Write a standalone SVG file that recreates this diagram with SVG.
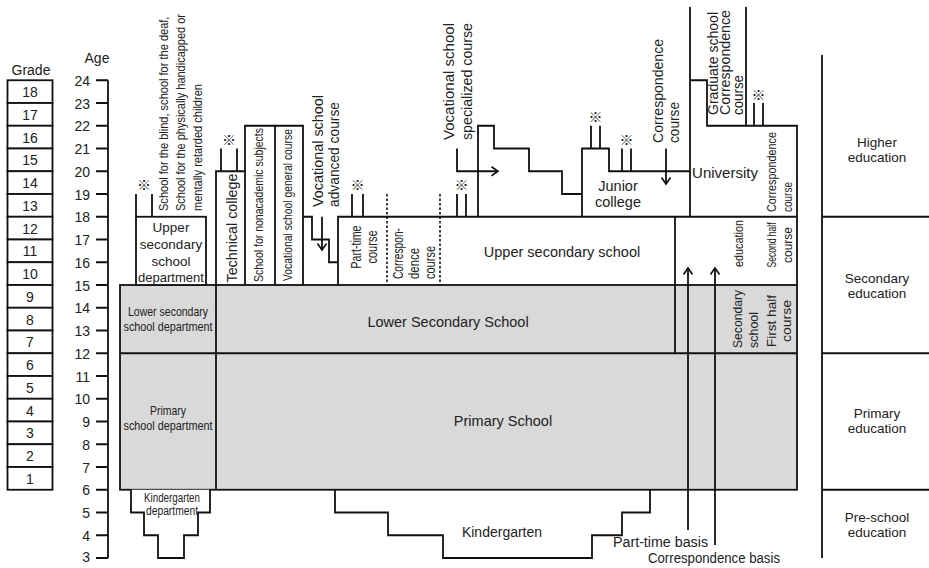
<svg xmlns="http://www.w3.org/2000/svg" width="929" height="568" viewBox="0 0 929 568">
<style>
.ln{fill:none;stroke:#111;stroke-width:1.8}
.dot{fill:none;stroke:#111;stroke-width:1.6;stroke-dasharray:2.5,2}
.box{fill:#fff;stroke:#111;stroke-width:1.8}
.grey{fill:#d9d9d9;stroke:#111;stroke-width:1.8}
text{font-family:"Liberation Sans",Arial,sans-serif;fill:#222}
.c{text-anchor:middle}
.e{text-anchor:end}
.v{dominant-baseline:central}
.m{dominant-baseline:central;text-anchor:middle}
.k{font-family:"Noto Sans CJK JP","Noto Sans CJK SC",sans-serif;font-size:14px;font-weight:bold;text-anchor:middle;dominant-baseline:central;fill:#111}
</style>
<defs>
<marker id="ah" viewBox="-8 -6 10 12" refX="0" refY="0" markerWidth="10" markerHeight="12" markerUnits="userSpaceOnUse" orient="auto">
<path d="M-6.5,-4.5 L0,0 L-6.5,4.5" fill="none" stroke="#111" stroke-width="1.6"/>
</marker>
</defs>

<g id="grade-column" font-size="14">
<text x="31" y="75" class="c">Grade</text>
<g class="box">
<rect x="7.5" y="80.25" width="45" height="22.75"/><rect x="7.5" y="103" width="45" height="22.75"/>
<rect x="7.5" y="125.75" width="45" height="22.75"/><rect x="7.5" y="148.5" width="45" height="22.75"/>
<rect x="7.5" y="171.25" width="45" height="22.75"/><rect x="7.5" y="194" width="45" height="22.75"/>
<rect x="7.5" y="216.75" width="45" height="22.75"/><rect x="7.5" y="239.5" width="45" height="22.75"/>
<rect x="7.5" y="262.25" width="45" height="22.75"/><rect x="7.5" y="285" width="45" height="22.75"/>
<rect x="7.5" y="307.75" width="45" height="22.75"/><rect x="7.5" y="330.5" width="45" height="22.75"/>
<rect x="7.5" y="353.25" width="45" height="22.75"/><rect x="7.5" y="376" width="45" height="22.75"/>
<rect x="7.5" y="398.75" width="45" height="22.75"/><rect x="7.5" y="421.5" width="45" height="22.75"/>
<rect x="7.5" y="444.25" width="45" height="22.75"/><rect x="7.5" y="467" width="45" height="22.75"/>
</g>
<g class="m">
<text x="30" y="92">18</text><text x="30" y="114.8">17</text><text x="30" y="137.5">16</text>
<text x="30" y="160.3">15</text><text x="30" y="183">14</text><text x="30" y="205.8">13</text>
<text x="30" y="228.5">12</text><text x="30" y="251.3">11</text><text x="30" y="274">10</text>
<text x="30" y="296.8">9</text><text x="30" y="319.5">8</text><text x="30" y="342.3">7</text>
<text x="30" y="365">6</text><text x="30" y="387.8">5</text><text x="30" y="410.5">4</text>
<text x="30" y="433.3">3</text><text x="30" y="456">2</text><text x="30" y="478.8">1</text>
</g>
</g>

<g id="age-axis" font-size="14">
<text x="97" y="63" class="c">Age</text>
<path class="ln" d="M108,80.25 V558 M96,80.25 H108 M96,103 H108 M96,125.75 H108 M96,148.5 H108 M96,171.25 H108 M96,194 H108 M96,216.75 H108 M96,239.5 H108 M96,262.25 H108 M96,285 H108 M96,307.75 H108 M96,330.5 H108 M96,353.25 H108 M96,376 H108 M96,398.75 H108 M96,421.5 H108 M96,444.25 H108 M96,467 H108 M96,489.75 H108 M96,512.5 H108 M96,535.25 H108 M96,558 H108"/>
<g class="e v">
<text x="90" y="81">24</text><text x="90" y="103.5">23</text><text x="90" y="126.3">22</text>
<text x="90" y="149">21</text><text x="90" y="171.8">20</text><text x="90" y="194.5">19</text>
<text x="90" y="217.3">18</text><text x="90" y="240">17</text><text x="90" y="262.8">16</text>
<text x="90" y="285.5">15</text><text x="90" y="308.3">14</text><text x="90" y="331">13</text>
<text x="90" y="353.8">12</text><text x="90" y="376.5">11</text><text x="90" y="399.3">10</text>
<text x="90" y="422">9</text><text x="90" y="444.8">8</text><text x="90" y="467.5">7</text>
<text x="90" y="490.3">6</text><text x="90" y="513">5</text><text x="90" y="535.8">4</text>
<text x="90" y="557">3</text>
</g>
</g>

<g id="primary-lower-secondary">
<rect class="grey" x="120" y="285" width="677" height="204.75"/>
<path class="ln" d="M120,353.25 H797 M216,285 V489.75"/>
<text x="448" y="327" class="c" font-size="14.5">Lower Secondary School</text>
<text x="503" y="426" class="c" font-size="14.5">Primary School</text>
<g font-size="13" class="c">
<text x="168" y="316" textLength="80" lengthAdjust="spacingAndGlyphs">Lower secondary</text>
<text x="168" y="331" textLength="89" lengthAdjust="spacingAndGlyphs">school department</text>
<text x="168" y="415" textLength="36" lengthAdjust="spacingAndGlyphs">Primary</text>
<text x="168" y="430" textLength="89" lengthAdjust="spacingAndGlyphs">school department</text>
</g>
</g>

<g id="special-school">
<rect class="box" x="136" y="216.75" width="70" height="68.25"/>
<path class="ln" d="M136,194 V216.75 M152,194 V216.75"/>
<text x="144" y="184" class="k">※</text>
<g font-size="13" class="v">
<text transform="translate(164,211) rotate(-90) scale(0.85,1)">School for the blind, school for the deaf,</text>
<text transform="translate(181,211) rotate(-90) scale(0.845,1)">School for the physically handicapped or</text>
<text transform="translate(197.5,211) rotate(-90) scale(0.85,1)">mentally retarded children</text>
</g>
<g font-size="13.5" class="c">
<text x="171" y="232">Upper</text>
<text x="171" y="249">secondary</text>
<text x="171" y="266">school</text>
<text x="171" y="282" textLength="66" lengthAdjust="spacingAndGlyphs">department</text>
</g>
</g>

<g id="technical-college">
<path class="ln" d="M216,285 V171.25 H245 V285 M221,148.5 V171.25 M237,148.5 V171.25"/>
<text x="229" y="139" class="k">※</text>
<text transform="translate(231,228) rotate(-90)" class="m" font-size="15" textLength="109" lengthAdjust="spacingAndGlyphs">Technical college</text>
</g>

<g id="nonacademic-school">
<path class="ln" d="M245,171.25 V125.75 H275 V285"/>
<text transform="translate(259,205) rotate(-90)" class="m" font-size="12" textLength="154" lengthAdjust="spacingAndGlyphs">School for nonacademic subjects</text>
</g>

<g id="vocational-general">
<path class="ln" d="M275,125.75 H303 V285"/>
<text transform="translate(288,205) rotate(-90)" class="m" font-size="12" textLength="152" lengthAdjust="spacingAndGlyphs">Vocational school general course</text>
</g>

<g id="vocational-advanced">
<path class="ln" d="M303,216.75 H312 V239.5 H329 V262.25 H338"/>
<g font-size="15" class="v">
<text transform="translate(317,207) rotate(-90)" textLength="112" lengthAdjust="spacingAndGlyphs">Vocational school</text>
<text transform="translate(333,207) rotate(-90)" textLength="105" lengthAdjust="spacingAndGlyphs">advanced course</text>
</g>
</g>

<g id="upper-secondary-school">
<path class="ln" d="M338,285 V216.75 H797"/>
<path class="ln" d="M352,194 V216.75 M363,194 V216.75"/>
<text x="357.5" y="184" class="k">※</text>
<path class="dot" d="M387,194 V285 M440,194 V285"/>
<g font-size="14.5" class="m">
<text transform="translate(356,247) rotate(-90)" textLength="43" lengthAdjust="spacingAndGlyphs">Part-time</text>
<text transform="translate(372,247) rotate(-90)" textLength="33" lengthAdjust="spacingAndGlyphs">course</text>
</g>
<g font-size="14.5" class="v">
<text transform="translate(398,279) rotate(-90)" textLength="51" lengthAdjust="spacingAndGlyphs">Correspon-</text>
<text transform="translate(414,279) rotate(-90)" textLength="31" lengthAdjust="spacingAndGlyphs">dence</text>
<text transform="translate(430,279) rotate(-90)" textLength="33" lengthAdjust="spacingAndGlyphs">course</text>
</g>
<text x="562" y="257" class="c" font-size="14.5">Upper secondary school</text>
</g>

<g id="vocational-specialized">
<path class="ln" d="M478,216.75 V125.75 H494 V148.5 H529 V171.25 H562 V194 H582"/>
<path class="ln" d="M457,194 V216.75 M466,194 V216.75"/>
<text x="461.5" y="184" class="k">※</text>
<g font-size="15" class="v">
<text transform="translate(448,140) rotate(-90)" textLength="117" lengthAdjust="spacingAndGlyphs">Vocational school</text>
<text transform="translate(466,140) rotate(-90)" textLength="117" lengthAdjust="spacingAndGlyphs">specialized course</text>
</g>
</g>

<g id="junior-college">
<path class="ln" d="M582,216.75 V148.5 H609 V171.25 H690"/>
<path class="ln" d="M591,125.75 V148.5 M600,125.75 V148.5 M622,148.5 V171.25 M631,148.5 V171.25"/>
<text x="595.5" y="116" class="k">※</text>
<text x="626.5" y="139" class="k">※</text>
<text x="618" y="191" class="c" font-size="14.5">Junior</text>
<text x="618" y="207" class="c" font-size="14.5">college</text>
<g font-size="15" class="v">
<text transform="translate(657,143) rotate(-90)" textLength="104" lengthAdjust="spacingAndGlyphs">Correspondence</text>
<text transform="translate(673,143) rotate(-90)" textLength="41" lengthAdjust="spacingAndGlyphs">course</text>
</g>
</g>

<g id="university">
<path class="ln" d="M690,7 V216.75 M690,80.25 H707 V125.75 H797 V285 M746,7 V125.75"/>
<path class="ln" d="M754,103 V125.75 M763,103 V125.75"/>
<text x="758.5" y="94" class="k">※</text>
<text x="725" y="178" class="c" font-size="15">University</text>
<g font-size="14" class="v">
<text transform="translate(713,115) rotate(-90)" textLength="103" lengthAdjust="spacingAndGlyphs">Graduate school</text>
<text transform="translate(725,115) rotate(-90)" textLength="105" lengthAdjust="spacingAndGlyphs">Correspondence</text>
<text transform="translate(738,115) rotate(-90)" textLength="40" lengthAdjust="spacingAndGlyphs">course</text>
</g>
<g font-size="12.5" class="v">
<text transform="translate(772,212) rotate(-90)" textLength="80" lengthAdjust="spacingAndGlyphs">Correspondence</text>
<text transform="translate(788,212) rotate(-90)" textLength="30" lengthAdjust="spacingAndGlyphs">course</text>
</g>
</g>

<g id="secondary-education-school">
<path class="ln" d="M675,216.75 V353.25"/>
<g font-size="13" class="v">
<text transform="translate(737,348) rotate(-90)" textLength="58" lengthAdjust="spacingAndGlyphs">Secondary</text>
<text transform="translate(753,348) rotate(-90)" textLength="36" lengthAdjust="spacingAndGlyphs">school</text>
<text transform="translate(738,267) rotate(-90)" textLength="47" lengthAdjust="spacingAndGlyphs">education</text>
</g>
<g font-size="12.5" class="m">
<text transform="translate(772,245) rotate(-90)" textLength="45" lengthAdjust="spacingAndGlyphs">Second half</text>
<text transform="translate(788,245) rotate(-90)" textLength="36" lengthAdjust="spacingAndGlyphs">course</text>
<text transform="translate(772,321) rotate(-90)" textLength="52" lengthAdjust="spacingAndGlyphs">First half</text>
<text transform="translate(787,321) rotate(-90)" textLength="42" lengthAdjust="spacingAndGlyphs">course</text>
</g>
</g>

<g id="kindergarten-department">
<path class="box" d="M131,489.75 V512.5 H144 V535.25 H158 V558 H184 V535.25 H198 V512.5 H210 V489.75"/>
<g font-size="12" class="c">
<text x="172" y="502" textLength="56" lengthAdjust="spacingAndGlyphs">Kindergarten</text>
<text x="172" y="515" textLength="52" lengthAdjust="spacingAndGlyphs">department</text>
</g>
</g>

<g id="kindergarten">
<path class="ln" d="M335,489.75 V512.5 H388 V535.25 H443 V558 H592 V535.25 H622 V512.5 H650 V489.75"/>
<text x="502" y="537" class="c" font-size="14">Kindergarten</text>
</g>

<g id="basis-labels">
<text x="613" y="547" font-size="14" textLength="95" lengthAdjust="spacingAndGlyphs">Part-time basis</text>
<text x="648" y="563" font-size="14" textLength="132" lengthAdjust="spacingAndGlyphs">Correspondence basis</text>
</g>

<g id="connectors">
<path class="ln" d="M322,216.75 V250" marker-end="url(#ah)"/>
<path class="ln" d="M457,148.5 V171.25 H498" marker-end="url(#ah)"/>
<path class="ln" d="M666,148.5 V184" marker-end="url(#ah)"/>
<path class="ln" d="M688,530 V268" marker-end="url(#ah)"/>
<path class="ln" d="M715,545 V268" marker-end="url(#ah)"/>
</g>

<g id="education-levels" font-size="13.5">
<path class="ln" d="M822,55 V558 M822,216.75 H929 M822,353.25 H929 M822,489.75 H929"/>
<g class="c">
<text x="877" y="147">Higher</text><text x="877" y="162">education</text>
<text x="877" y="283">Secondary</text><text x="877" y="298">education</text>
<text x="877" y="418">Primary</text><text x="877" y="433">education</text>
<text x="877" y="522">Pre-school</text><text x="877" y="537">education</text>
</g>
</g>
</svg>
